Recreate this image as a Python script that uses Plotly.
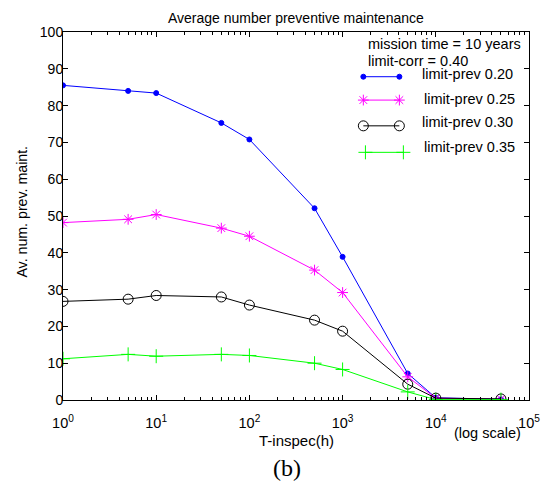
import plotly.graph_objects as go

t_inspec = [1, 5, 10, 50, 100, 500, 1000, 5000, 10000, 50000]
prev_020 = [85.5, 84.0, 83.4, 75.3, 70.8, 52.1, 38.9, 7.2, 0.6, 0.2]
prev_025 = [48.2, 49.1, 50.4, 46.7, 44.5, 35.3, 29.2, 6.3, 0.5, 0.2]
prev_030 = [26.8, 27.4, 28.4, 28.0, 25.8, 21.7, 18.7, 4.3, 0.5, 0.3]
prev_035 = [11.2, 12.4, 11.9, 12.4, 12.1, 10.0, 8.3, 2.2, 0.1, 0.1]

series_names = ["limit-prev 0.20", "limit-prev 0.25", "limit-prev 0.30", "limit-prev 0.35"]
legend_header = ["mission time = 10 years", "limit-corr = 0.40"]
x_tickvals = [1, 10, 100, 1000, 10000, 100000]
x_ticktext = ["10<sup>0</sup>", "10<sup>1</sup>", "10<sup>2</sup>", "10<sup>3</sup>", "10<sup>4</sup>", "10<sup>5</sup>"]
y_tickvals = [0, 10, 20, 30, 40, 50, 60, 70, 80, 90, 100]

styles = [
    dict(color="#0000FF", symbol="circle", size=5),
    dict(color="#FF00FF", symbol="asterisk-open", size=9),
    dict(color="#000000", symbol="circle-open", size=10),
    dict(color="#00FF00", symbol="cross-thin-open", size=10),
]

# legend layout (fractions of the plot area)
leg_line_x0 = [0.6445, 0.6445, 0.6445, 0.649]
leg_line_x1 = [0.7218, 0.7218, 0.7218, 0.7304]
leg_line_y = [0.8785, 0.815, 0.745, 0.673]
leg_text_x = [0.767, 0.7705, 0.767, 0.7705]
leg_text_y = [0.885, 0.818, 0.756, 0.687]
leg_head_x = 0.651
leg_head_y = [0.967, 0.922]

fig = go.Figure()
for name, ys, st in zip(series_names, [prev_020, prev_025, prev_030, prev_035], styles):
    fig.add_trace(go.Scatter(
        x=t_inspec, y=ys, mode="lines+markers", name=name, showlegend=False,
        line=dict(color=st["color"], width=1),
        marker=dict(symbol=st["symbol"], size=st["size"], color=st["color"],
                    line=dict(color=st["color"], width=1)),
    ))

# legend samples on an overlay axis in plot-fraction units
for i, st in enumerate(styles):
    fig.add_trace(go.Scatter(
        x=[leg_line_x0[i], leg_line_x1[i]], y=[leg_line_y[i], leg_line_y[i]],
        xaxis="x2", yaxis="y2", mode="lines+markers", showlegend=False, hoverinfo="skip",
        line=dict(color=st["color"], width=1),
        marker=dict(symbol=st["symbol"], size=st["size"], color=st["color"],
                    line=dict(color=st["color"], width=1)),
    ))

font_family = "Liberation Sans, Arial, Helvetica, sans-serif"
leg_font = dict(size=14.5, family=font_family, color="black")

annotations = [
    dict(text="Average number preventive maintenance", x=0.5, y=1, xref="paper", yref="paper",
         xanchor="center", yanchor="middle", yshift=14.5, showarrow=False, font=dict(size=14)),
    dict(text="Av. num. prev. maint.", x=-0.0887, y=0.511, xref="paper", yref="paper",
         xanchor="center", yanchor="middle", showarrow=False, textangle=-90, font=dict(size=14.2)),
    dict(text="T-inspec(h)", x=0.5, y=0, xref="paper", yref="paper", xanchor="center", yanchor="middle",
         yshift=-40, showarrow=False, font=dict(size=15)),
    dict(text="(log scale)", x=0.912, y=0, xref="paper", yref="paper", xanchor="center", yanchor="middle",
         yshift=-32.7, showarrow=False, font=dict(size=14.5)),
    dict(text="(b)", x=0.4806, y=0, xref="paper", yref="paper", xanchor="center", yanchor="middle",
         yshift=-67.5, showarrow=False, font=dict(size=24, family="Liberation Serif, Times New Roman, serif")),
]
for txt, yy in zip(legend_header, leg_head_y):
    annotations.append(dict(text=txt, x=leg_head_x, y=yy, xref="paper", yref="paper",
                            xanchor="left", yanchor="middle", showarrow=False, font=leg_font))
for i, name in enumerate(series_names):
    annotations.append(dict(text=name, x=leg_text_x[i], y=leg_text_y[i], xref="paper", yref="paper",
                            xanchor="left", yanchor="middle", showarrow=False, font=leg_font))

fig.update_layout(
    width=544, height=473,
    margin=dict(l=55, r=23, t=24, b=81),
    paper_bgcolor="white", plot_bgcolor="white",
    font=dict(family=font_family, size=14, color="black"),
    showlegend=False,
    xaxis=dict(
        type="log", range=[0, 5],
        tickvals=x_tickvals, ticktext=x_ticktext,
        ticks="inside", ticklen=5, tickcolor="black",
        showline=True, linecolor="black", linewidth=1, mirror="ticks",
        showgrid=False, zeroline=False,
        tickfont=dict(size=14.5), ticklabelstandoff=10,
        minor=dict(ticks="inside", ticklen=3, dtick="D1", tickcolor="black", showgrid=False),
    ),
    yaxis=dict(
        range=[0, 100], tickvals=y_tickvals,
        ticks="inside", ticklen=5, tickcolor="black",
        showline=True, linecolor="black", linewidth=1, mirror="ticks",
        showgrid=False, zeroline=False,
        tickfont=dict(size=14), ticklabelstandoff=-4,
    ),
    xaxis2=dict(overlaying="x", range=[0, 1], visible=False, fixedrange=True),
    yaxis2=dict(overlaying="y", range=[0, 1], visible=False, fixedrange=True),
    annotations=annotations,
)

fig.write_html("out.html")
